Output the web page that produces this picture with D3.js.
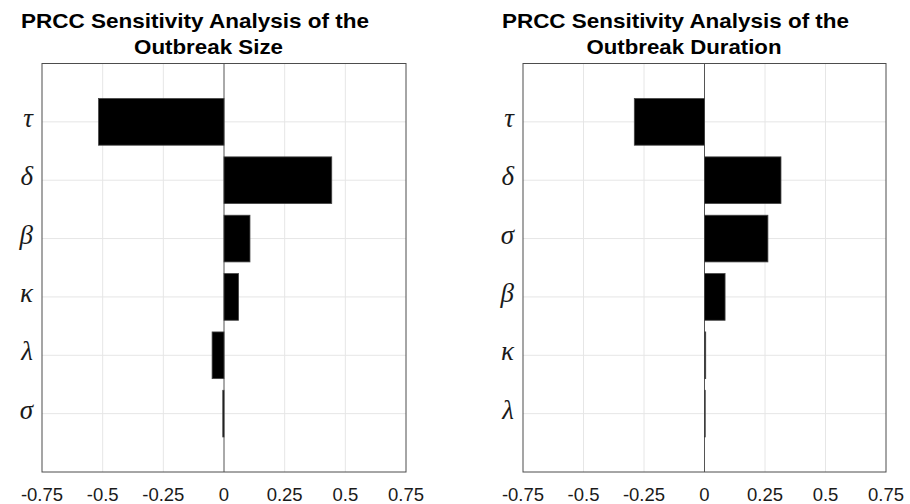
<!DOCTYPE html>
<html>
<head>
<meta charset="utf-8">
<script src="https://cdn.jsdelivr.net/npm/d3@7"></script>
<style>
  html, body { margin: 0; padding: 0; background: #fff; }
  svg { display: block; }
</style>
</head>
<body>
<svg id="chart" width="910" height="504"></svg>
<script>
// ---- data ----
const sizeCategories = ["τ", "δ", "β", "κ", "λ", "σ"];
const sizeValues = [-0.517, 0.444, 0.107, 0.060, -0.049, -0.005];

const durationCategories = ["τ", "δ", "σ", "β", "κ", "λ"];
const durationValues = [-0.290, 0.316, 0.262, 0.085, 0.005, 0.003];

const xTickValues = [-0.75, -0.5, -0.25, 0, 0.25, 0.5, 0.75];
const xTickLabels = ["-0.75", "-0.5", "-0.25", "0", "0.25", "0.5", "0.75"];

const sizeTitle = ["PRCC Sensitivity Analysis of the", "Outbreak Size"];
const durationTitle = ["PRCC Sensitivity Analysis of the", "Outbreak Duration"];

// ---- drawing ----
const svg = d3.select("#chart");

function panel(cfg) {
  const { left, right, top, bottom, cats, vals, title, titleX, titleW } = cfg;
  const g = svg.append("g");

  const x = d3.scaleLinear().domain([-0.75, 0.75]).range([left, right]);
  const y = d3.scaleLinear().domain([0, cats.length + 1]).range([top, bottom]);

  // grid
  g.selectAll(".vg").data(xTickValues.filter(v => v !== 0 && Math.abs(v) !== 0.75))
    .join("line")
    .attr("x1", d => x(d)).attr("x2", d => x(d))
    .attr("y1", top).attr("y2", bottom)
    .attr("stroke", "#e6e6e6").attr("stroke-width", 1);
  g.selectAll(".hg").data(cats)
    .join("line")
    .attr("x1", left).attr("x2", right)
    .attr("y1", (d, i) => y(i + 1)).attr("y2", (d, i) => y(i + 1))
    .attr("stroke", "#e6e6e6").attr("stroke-width", 1);

  // zero baseline
  g.append("line")
    .attr("x1", x(0)).attr("x2", x(0))
    .attr("y1", top).attr("y2", bottom)
    .attr("stroke", "#555").attr("stroke-width", 1);

  // bars
  const bh = y(0.8) - y(0);
  g.selectAll(".bar").data(vals)
    .join("rect")
    .attr("x", d => Math.min(x(0), x(d)))
    .attr("width", d => Math.abs(x(d) - x(0)))
    .attr("y", (d, i) => y(i + 1) - bh / 2)
    .attr("height", bh)
    .attr("fill", "#000")
    .attr("stroke", "#444")
    .attr("stroke-width", 0.8);

  // frame
  g.append("rect")
    .attr("x", left).attr("y", top)
    .attr("width", right - left).attr("height", bottom - top)
    .attr("fill", "none").attr("stroke", "#4d4d4d").attr("stroke-width", 1);

  // x tick labels
  g.selectAll(".xt").data(xTickValues)
    .join("text")
    .attr("x", d => x(d))
    .attr("y", bottom + 29)
    .attr("text-anchor", "middle")
    .attr("font-family", "Liberation Sans, Arial, sans-serif")
    .attr("font-size", 18.5)
    .attr("fill", "#1a1a1a")
    .text((d, i) => xTickLabels[i]);

  // y labels
  g.selectAll(".yt").data(cats)
    .join("text")
    .attr("x", left - 9)
    .attr("y", (d, i) => y(i + 1) + 5)
    .attr("text-anchor", "end")
    .attr("font-family", "Liberation Serif, DejaVu Serif, serif")
    .attr("font-style", "italic")
    .attr("font-size", 27)
    .attr("fill", "#1a1a1a")
    .text(d => d);

  // title
  title.forEach((t, i) => {
    g.append("text")
      .attr("x", titleX[i])
      .attr("y", 27.5 + i * 26)
      .attr("text-anchor", "middle")
      .attr("font-family", "Liberation Sans, Arial, sans-serif")
      .attr("font-weight", "bold")
      .attr("font-size", 20.5)
      .attr("textLength", titleW[i])
      .attr("lengthAdjust", "spacingAndGlyphs")
      .attr("fill", "#000")
      .text(t);
  });
}

panel({ left: 42, right: 406, top: 63.5, bottom: 472, cats: sizeCategories, vals: sizeValues,
        title: sizeTitle, titleX: [195, 208.5], titleW: [348, 149] });
panel({ left: 523, right: 886, top: 63.5, bottom: 472, cats: durationCategories, vals: durationValues,
        title: durationTitle, titleX: [675.5, 684], titleW: [347, 195] });
</script>
</body>
</html>
